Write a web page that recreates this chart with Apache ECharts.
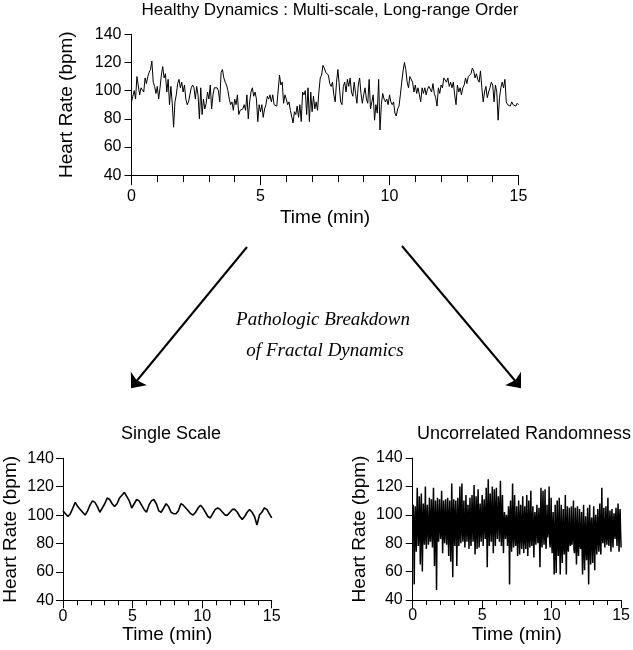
<!DOCTYPE html>
<html><head><meta charset="utf-8">
<script src="https://cdn.jsdelivr.net/npm/echarts@6/dist/echarts.min.js"></script>
<style>html,body{margin:0;padding:0;background:#fff}#c{width:633px;height:650px}</style>
</head><body><div id="c"></div>
<script>
const chartTitles = ['Healthy Dynamics : Multi-scale, Long-range Order', 'Single Scale', 'Uncorrelated Randomness'];
const noteLines = ['Pathologic Breakdown', 'of Fractal Dynamics'];
const xTicks = [0, 5, 10, 15];
const yTicks = [40, 60, 80, 100, 120, 140];

const healthyHR = [
92,96,100,94,110,111,97,102,103,99,109,105,110,113,115,121,106,103,98,103,
94,102,111,117,109,112,99,108,90,103,91,74,92,97,105,108,102,106,99,104,
94,90,92,97,102,104,102,94,103,97,80,102,83,94,87,91,99,94,104,87,
97,102,103,102,100,92,113,115,109,106,104,100,94,90,92,86,94,90,97,83,
86,85,87,90,86,97,80,92,99,102,96,
99,94,78,90,85,90,81,87,90,96,94,97,92,97,90,90,89,90,111,104,
106,91,97,94,90,92,86,87,77,85,83,89,81,90,78,99,97,100,83,102,
78,99,85,96,87,92,86,99,109,111,118,116,113,112,111,105,103,106,97,92,
106,115,104,92,90,103,106,99,108,103,109,99,96,106,98,91,104,109,98,91,
97,102,94,91,108,87,92,97,79,90,84,108,72,90,98,94,92,
94,90,97,92,90,92,84,82,87,89,97,106,114,120,115,106,102,110,109,106,
99,104,98,102,97,92,102,98,102,97,101,103,104,99,105,98,95,89,102,98,
104,102,109,110,106,109,103,106,102,106,97,90,104,99,102,97,102,104,109,105,
110,109,112,116,114,109,112,108,106,114,102,92,99,103,95,99,102,106,104,92,
104,99,79,95,102,106,102,108,92,90,91,89,92,90,91,89,91,90
];

const singleScaleHR = [
103,101,99,101,105,109,106,104,102,100,103,107,110,109,106,102,105,108,112,111,
108,106,108,112,114,116,113,110,105,108,111,110,107,104,102,107,110,111,108,103,
102,105,108,106,102,101,101,103,108,107,105,103,101,100,102,105,107,105,102,99,
98,101,104,105,104,102,100,100,102,104,104,102,99,97,99,102,104,102,99,93,
100,102,105,104,101,98
];

const randomHR = [
95,107,90,51, 92,106,88,74, 97,119,93,78, 86,113,99,65, 90,115,94,60,
88,108,96,79, 91,120,87,76, 98,107,92,79, 85,112,95,81, 93,111,89,77,
97,119,91,64, 88,110,94,47, 90,112,86,81, 96,111,92,83, 89,117,98,73,
87,110,93,80, 95,111,90,79, 92,112,88,71, 97,110,91,67, 86,122,95,56,
93,111,89,78, 98,110,92,64, 90,112,96,78, 87,120,93,80, 99,122,91,81,
95,110,88,77, 92,114,97,81, 90,107,94,76, 96,112,89,78, 93,114,98,81,
88,121,95,72, 91,113,97,76, 99,118,93,77, 94,108,90,81, 96,114,92,78,
100,111,94,83, 97,119,91,63, 95,125,99,78, 93,115,96,81, 98,120,92,73,
95,118,97,78, 99,119,94,83, 96,113,100,81, 97,124,93,78, 95,114,90,73,
92,102,96,83, 89,100,94,78, 91,106,95,51, 97,110,88,74,
92,122,88,77, 95,114,86,78, 90,106,84,71, 93,110,87,72, 96,107,85,76,
91,113,89,73, 94,106,83,76, 97,114,88,71, 90,110,86,77, 93,117,84,78,
95,106,87,70, 91,102,85,79, 96,107,88,80, 92,105,84,63, 94,119,86,77,
98,117,89,79, 93,118,85,76, 88,107,84,83, 90,120,82,77, 87,112,83,73,
89,102,80,58, 86,107,79,59, 90,110,82,71, 87,112,78,58, 85,107,81,66,
88,104,77,72, 84,114,80,58, 89,106,78,74, 86,105,82,78, 83,106,79,79,
87,110,76,73, 85,105,80,65, 88,106,78,71, 84,104,81,76, 86,102,77,58,
83,107,79,61, 87,99,76,68, 85,105,78,51, 88,107,80,65, 90,98,82,66,
87,106,84,61, 91,100,83,72, 89,104,85,74, 92,108,82,72, 88,119,86,80,
93,105,84,77, 90,106,87,79, 94,112,85,78, 91,103,88,74, 95,104,86,77,
92,101,89,83, 96,105,87,78, 93,108,90,74, 97,104,88,77
];

const DURATION = xTicks[xTicks.length - 1];
function withTime(values) {
  const n = values.length;
  return values.map((v, i) => [i * DURATION / (n - 1), v]);
}

const SANS = '"Liberation Sans", Arial, Helvetica, sans-serif';
const SERIF = '"Liberation Serif", "Times New Roman", serif';

function makeX(gridIndex, cfg) {
  return {
    type: 'value', gridIndex: gridIndex,
    min: xTicks[0], max: xTicks[xTicks.length - 1], interval: xTicks[1] - xTicks[0],
    axisLine: { onZero: false, lineStyle: { color: '#000', width: 1 } },
    axisTick: { show: true, length: cfg.major, lineStyle: { color: '#000', width: 1 } },
    minorTick: { show: true, splitNumber: 5, length: cfg.minor, lineStyle: { color: '#000', width: 1 } },
    splitLine: { show: false },
    axisLabel: { color: '#000', fontSize: 16, fontFamily: SANS, margin: cfg.labelMargin },
    name: 'Time (min)', nameLocation: 'middle', nameGap: cfg.nameGap,
    nameTextStyle: { color: '#000', fontSize: 19, fontFamily: SANS }
  };
}
function makeY(gridIndex, cfg) {
  return {
    type: 'value', gridIndex: gridIndex,
    min: yTicks[0], max: yTicks[yTicks.length - 1], interval: yTicks[1] - yTicks[0],
    axisLine: { show: true, onZero: false, lineStyle: { color: '#000', width: 1 } },
    axisTick: { show: true, length: cfg.tick, lineStyle: { color: '#000', width: 1 } },
    splitLine: { show: false },
    axisLabel: { color: '#000', fontSize: 16, fontFamily: SANS, margin: cfg.labelMargin },
    name: 'Heart Rate (bpm)', nameLocation: 'middle', nameGap: cfg.nameGap, nameRotate: 90,
    nameTextStyle: { color: '#000', fontSize: 19, fontFamily: SANS }
  };
}

const chart = echarts.init(document.getElementById('c'), null, { renderer: 'canvas' });
chart.setOption({
  animation: false,
  backgroundColor: '#fff',
  title: [
    { text: chartTitles[0], left: 325, top: -3, textAlign: 'center',
      textStyle: { fontSize: 17, fontWeight: 'normal', color: '#000', fontFamily: SANS } },
    { text: chartTitles[1], left: 166, top: 420, textAlign: 'center',
      textStyle: { fontSize: 18, fontWeight: 'normal', color: '#000', fontFamily: SANS } },
    { text: chartTitles[2], left: 519, top: 420, textAlign: 'center',
      textStyle: { fontSize: 18, fontWeight: 'normal', color: '#000', fontFamily: SANS } }
  ],
  grid: [
    { left: 131.5, top: 34.3, width: 387, height: 140.8 },
    { left: 60.3, top: 458.3, width: 211.4, height: 142 },
    { left: 412.7, top: 458, width: 211.6, height: 142 }
  ],
  xAxis: [
    makeX(0, { major: 10, minor: 7, labelMargin: 13, nameGap: 33 }),
    makeX(1, { major: 8, minor: 5, labelMargin: 8, nameGap: 25 }),
    makeX(2, { major: 8, minor: 5, labelMargin: 8, nameGap: 25 })
  ],
  yAxis: [
    makeY(0, { tick: 7, labelMargin: 10, nameGap: 55 }),
    makeY(1, { tick: 7, labelMargin: 9, nameGap: 43 }),
    makeY(2, { tick: 7, labelMargin: 10, nameGap: 43 })
  ],
  series: [
    { type: 'line', xAxisIndex: 0, yAxisIndex: 0, data: withTime(healthyHR), symbol: 'none',
      lineStyle: { color: '#000', width: 1 } },
    { type: 'line', xAxisIndex: 1, yAxisIndex: 1, data: withTime(singleScaleHR), symbol: 'none',
      lineStyle: { color: '#000', width: 1.6 } },
    { type: 'line', xAxisIndex: 2, yAxisIndex: 2, data: withTime(randomHR), symbol: 'none',
      lineStyle: { color: '#000', width: 1.5 } }
  ],
  graphic: [
    { type: 'line', shape: { x1: 247, y1: 247, x2: 132.5, y2: 386 }, style: { stroke: '#000', lineWidth: 2 } },
    { type: 'polygon', shape: { points: [[143.8, 384.8], [132, 387], [131.9, 375], [136, 381]] },
      style: { stroke: '#000', lineWidth: 2, fill: '#000' } },
    { type: 'line', shape: { x1: 402, y1: 246, x2: 519.5, y2: 386 }, style: { stroke: '#000', lineWidth: 2 } },
    { type: 'polygon', shape: { points: [[520, 375], [520, 387], [508.2, 384.9], [516, 381]] },
      style: { stroke: '#000', lineWidth: 2, fill: '#000' } },
    { type: 'text', x: 323, y: 320,
      style: { text: noteLines[0], font: 'italic 19px ' + SERIF, fill: '#000', align: 'center', verticalAlign: 'middle' } },
    { type: 'text', x: 325, y: 351,
      style: { text: noteLines[1], font: 'italic 19px ' + SERIF, fill: '#000', align: 'center', verticalAlign: 'middle' } }
  ]
});
</script></body></html>
